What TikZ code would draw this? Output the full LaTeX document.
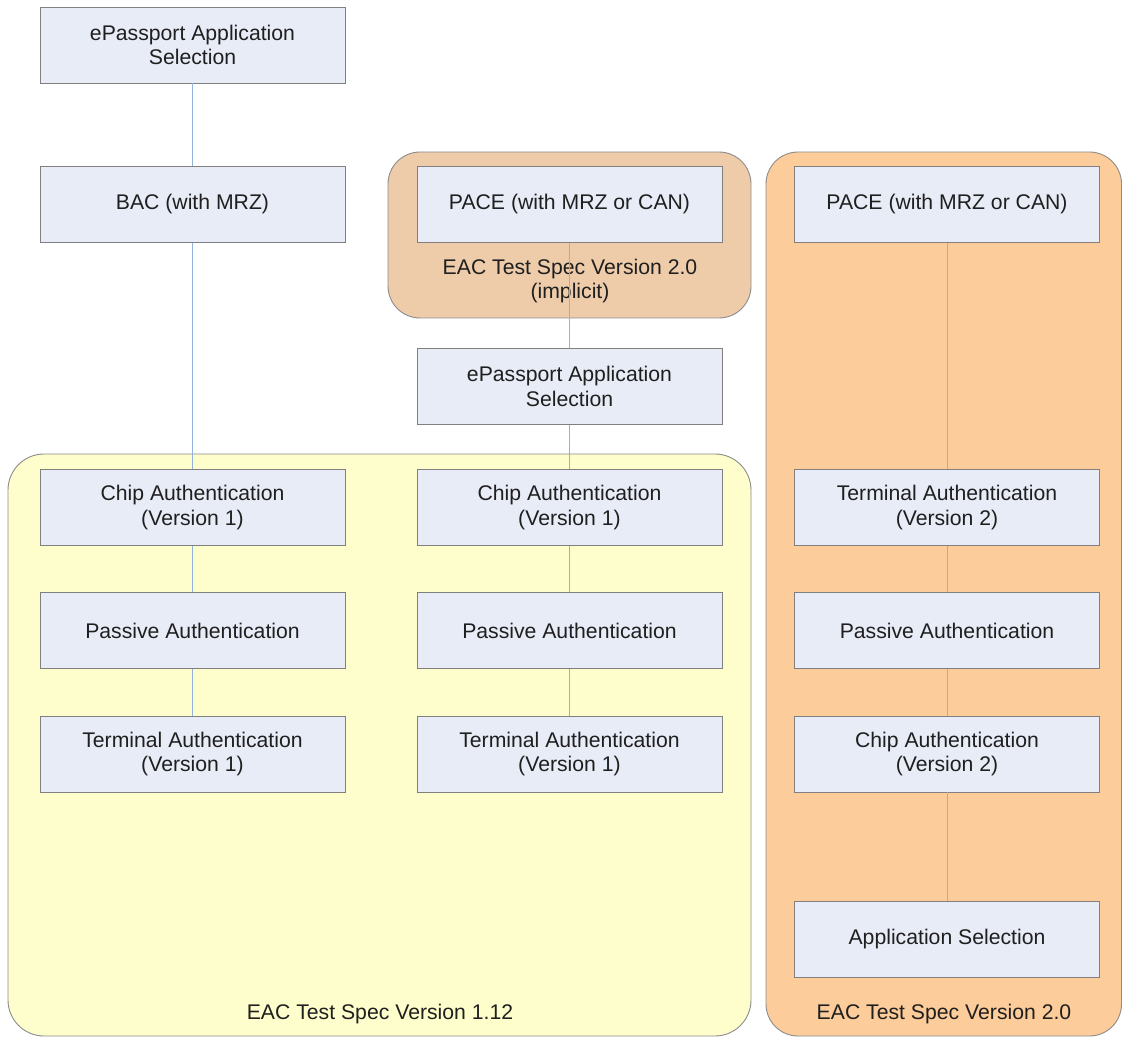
\documentclass[tikz,border=0pt]{standalone}
\usepackage{fontspec}
\setmainfont{Liberation Sans}
\begin{document}
\begin{tikzpicture}[x=1pt,y=-1pt,
  every node/.style={font=\fontsize{21.2}{24.5}\selectfont, text=black!88},
  stepbox/.style={draw=black!50, line width=0.9pt, fill=boxfill, minimum width=305pt, minimum height=76pt, inner sep=0pt, align=center},
  link/.style={draw=linkblue, line width=0.9pt},
  container/.style={draw=black!45, line width=0.9pt, rounded corners=32pt},
  clabel/.style={align=center, inner sep=0pt}
]
\definecolor{boxfill}{RGB}{232,236,247}
\definecolor{linkblue}{RGB}{145,178,218}
\definecolor{tanfill}{RGB}{238,204,170}
\definecolor{orangefill}{RGB}{252,204,154}
\definecolor{yellowfill}{RGB}{254,254,204}
\useasboundingbox (0,0) rectangle (1122,1040);
% containers
\path[container, fill=tanfill] (388,152) rectangle (751,318);
\path[container, fill=yellowfill, rounded corners=36pt] (8,454) rectangle (751,1036);
\path[container, fill=orangefill] (766,152) rectangle (1121.5,1036);
\node[clabel] (lblimp) at (570,281) {EAC Test Spec Version 2.0\\(implicit)};
\node[clabel] (lbl112) at (380,1014) {EAC Test Spec Version 1.12};
\node[clabel] (lbl20) at (944,1014) {EAC Test Spec Version 2.0};
% left column
\node[stepbox] (l1) at (192.5,45) {ePassport Application\\Selection};
\node[stepbox] (l2) at (192.5,204.5) {BAC (with MRZ)};
\node[stepbox] (l3) at (192.5,507.5) {Chip Authentication\\(Version 1)};
\node[stepbox] (l4) at (192.5,630.5) {Passive Authentication};
\node[stepbox] (l5) at (192.5,754) {Terminal Authentication\\(Version 1)};
% middle column
\node[stepbox] (m1) at (569.5,204.5) {PACE (with MRZ or CAN)};
\node[stepbox] (m2) at (569.5,386.5) {ePassport Application\\Selection};
\node[stepbox] (m3) at (569.5,507.5) {Chip Authentication\\(Version 1)};
\node[stepbox] (m4) at (569.5,630.5) {Passive Authentication};
\node[stepbox] (m5) at (569.5,754) {Terminal Authentication\\(Version 1)};
% right column
\node[stepbox] (r1) at (947,204.5) {PACE (with MRZ or CAN)};
\node[stepbox] (r2) at (947,507.5) {Terminal Authentication\\(Version 2)};
\node[stepbox] (r3) at (947,630.5) {Passive Authentication};
\node[stepbox] (r4) at (947,754) {Chip Authentication\\(Version 2)};
\node[stepbox] (r5) at (947,939) {Application Selection};
% connectors
\draw[link] (l1.south) -- (l2.north);
\draw[link] (l2.south) -- (l3.north);
\draw[link] (l3.south) -- (l4.north);
\draw[link] (l4.south) -- (l5.north);
\draw[link] (m1.south) -- (m2.north);
\draw[link] (m2.south) -- (m3.north);
\draw[link] (m3.south) -- (m4.north);
\draw[link] (m4.south) -- (m5.north);
\draw[link] (r1.south) -- (r2.north);
\draw[link] (r2.south) -- (r3.north);
\draw[link] (r3.south) -- (r4.north);
\draw[link] (r4.south) -- (r5.north);
\end{tikzpicture}
\end{document}
